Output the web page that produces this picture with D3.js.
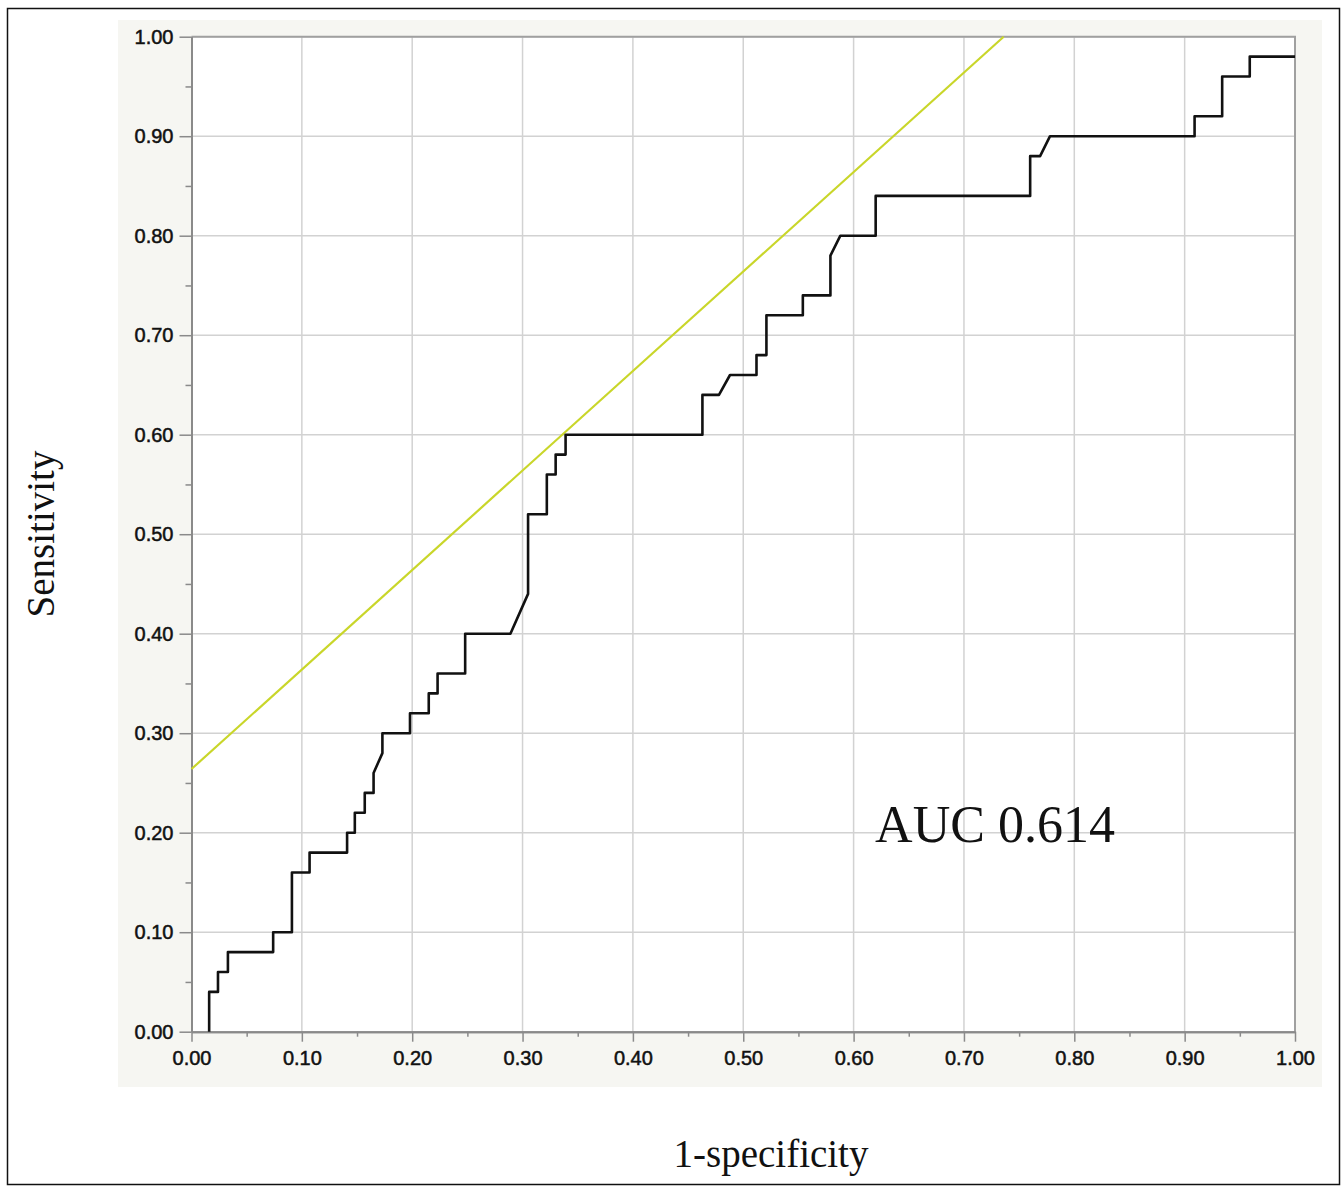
<!DOCTYPE html>
<html>
<head>
<meta charset="utf-8">
<script src="https://cdn.jsdelivr.net/npm/d3@7"></script>
<style>
  body { margin: 0; background: #fff; }
  svg { display: block; }
</style>
</head>
<body>
<div id="chart"></div>
<script>
// ROC curve vertices (1-specificity, sensitivity)
const fpr = [0.016, 0.016, 0.024, 0.024, 0.033, 0.033, 0.074, 0.074, 0.091, 0.091,
  0.107, 0.107, 0.141, 0.141, 0.148, 0.148, 0.157, 0.157, 0.165, 0.165,
  0.173, 0.173, 0.198, 0.198, 0.215, 0.215, 0.223, 0.223, 0.248, 0.248,
  0.289, 0.305, 0.305, 0.322, 0.322, 0.330, 0.330, 0.339, 0.339, 0.463,
  0.463, 0.478, 0.488, 0.512, 0.512, 0.521, 0.521, 0.554, 0.554, 0.579,
  0.579, 0.588, 0.620, 0.620, 0.760, 0.760, 0.769, 0.778, 0.909, 0.909,
  0.934, 0.934, 0.959, 0.959, 1.000];
const tpr = [0.00, 0.04, 0.04, 0.06, 0.06, 0.08, 0.08, 0.10, 0.10, 0.16,
  0.16, 0.18, 0.18, 0.20, 0.20, 0.22, 0.22, 0.24, 0.24, 0.26,
  0.28, 0.30, 0.30, 0.32, 0.32, 0.34, 0.34, 0.36, 0.36, 0.40,
  0.40, 0.44, 0.52, 0.52, 0.56, 0.56, 0.58, 0.58, 0.60, 0.60,
  0.64, 0.64, 0.66, 0.66, 0.68, 0.68, 0.72, 0.72, 0.74, 0.74,
  0.78, 0.80, 0.80, 0.84, 0.84, 0.88, 0.88, 0.90, 0.90, 0.92,
  0.92, 0.96, 0.96, 0.98, 0.98];

// tangent (Youden) line, slope 1
const tangentX = [0, 0.736];
const tangentY = [0.264, 1.0];

const tickValues = d3.range(0, 1.0001, 0.1);
const minorValues = d3.range(0.05, 1, 0.1);
const aucLabel = "AUC 0.614";

const width = 1342, height = 1186;
const x0 = 191.5, x1 = 1295, yTop = 36.7, yBot = 1031.7;

const svg = d3.select("#chart").append("svg")
  .attr("width", width)
  .attr("height", height);

// outer frame
svg.append("rect")
  .attr("x", 7.5).attr("y", 8.5)
  .attr("width", 1332).attr("height", 1176)
  .attr("fill", "#fff")
  .attr("stroke", "#111")
  .attr("stroke-width", 1.5);

// light panel behind the axes
svg.append("rect")
  .attr("x", 118).attr("y", 20)
  .attr("width", 1204).attr("height", 1067)
  .attr("fill", "#f6f6f2");

const x = d3.scaleLinear().domain([0, 1]).range([x0, x1]);
const y = d3.scaleLinear().domain([0, 1]).range([yBot, yTop]);

// plot background
svg.append("rect")
  .attr("x", x0).attr("y", yTop)
  .attr("width", x1 - x0).attr("height", yBot - yTop)
  .attr("fill", "#fff");

// grid
const grid = svg.append("g").attr("stroke", "#d2d2d2").attr("stroke-width", 1.5);
tickValues.slice(1).forEach(v => {
  grid.append("line")
    .attr("x1", x(v)).attr("x2", x(v))
    .attr("y1", yTop).attr("y2", yBot);
  grid.append("line")
    .attr("x1", x0).attr("x2", x1)
    .attr("y1", y(v)).attr("y2", y(v));
});

// frame top & right
svg.append("path")
  .attr("d", `M${x0},${yTop}H${x1}V${yBot}`)
  .attr("fill", "none")
  .attr("stroke", "#a0a0a0")
  .attr("stroke-width", 2);

// axes
const tickFont = g => g.selectAll("text")
  .attr("font-family", "Liberation Sans, Arial, sans-serif")
  .attr("font-size", 20)
  .attr("fill", "#111")
  .attr("stroke", "#111")
  .attr("stroke-width", 0.5);

const xAxis = svg.append("g")
  .attr("transform", `translate(0,${yBot})`)
  .call(d3.axisBottom(x).tickValues(tickValues).tickFormat(d3.format(".2f"))
    .tickSizeInner(10).tickSizeOuter(0).tickPadding(9));
xAxis.call(tickFont);

const xMinor = svg.append("g")
  .attr("transform", `translate(0,${yBot})`)
  .call(d3.axisBottom(x).tickValues(minorValues).tickFormat("").tickSize(5).tickSizeOuter(0));

const yAxis = svg.append("g")
  .attr("transform", `translate(${x0},0)`)
  .call(d3.axisLeft(y).tickValues(tickValues).tickFormat(d3.format(".2f"))
    .tickSizeInner(12).tickSizeOuter(0).tickPadding(6));
yAxis.call(tickFont);

const yMinor = svg.append("g")
  .attr("transform", `translate(${x0},0)`)
  .call(d3.axisLeft(y).tickValues(minorValues).tickFormat("").tickSize(6).tickSizeOuter(0));

[xAxis, xMinor, yAxis, yMinor].forEach(g => {
  g.selectAll("path.domain").attr("stroke", "#8a8a8a").attr("stroke-width", 2);
  g.selectAll(".tick line").attr("stroke", "#8a8a8a").attr("stroke-width", 1.5);
});

// tangent line
svg.append("line")
  .attr("x1", x(tangentX[0])).attr("y1", y(tangentY[0]))
  .attr("x2", x(tangentX[1])).attr("y2", y(tangentY[1]))
  .attr("stroke", "#c9d62a")
  .attr("stroke-width", 2.2);

// ROC curve
const roc = fpr.map((d, i) => [d, tpr[i]]);
svg.append("path")
  .datum(roc)
  .attr("d", d3.line().x(d => x(d[0])).y(d => y(d[1])))
  .attr("fill", "none")
  .attr("stroke", "#111")
  .attr("stroke-width", 2.6)
  .attr("stroke-linejoin", "round");

// labels
svg.append("text")
  .attr("x", 995).attr("y", 842)
  .attr("text-anchor", "middle")
  .attr("font-family", "Liberation Serif, Times New Roman, serif")
  .attr("font-size", 52)
  .attr("fill", "#111")
  .text(aucLabel);

svg.append("text")
  .attr("x", 771).attr("y", 1167)
  .attr("text-anchor", "middle")
  .attr("font-family", "Liberation Serif, Times New Roman, serif")
  .attr("font-size", 39)
  .attr("fill", "#111")
  .text("1-specificity");

svg.append("text")
  .attr("transform", "translate(54,534) rotate(-90)")
  .attr("text-anchor", "middle")
  .attr("font-family", "Liberation Serif, Times New Roman, serif")
  .attr("font-size", 39)
  .attr("fill", "#111")
  .text("Sensitivity");
</script>
</body>
</html>
